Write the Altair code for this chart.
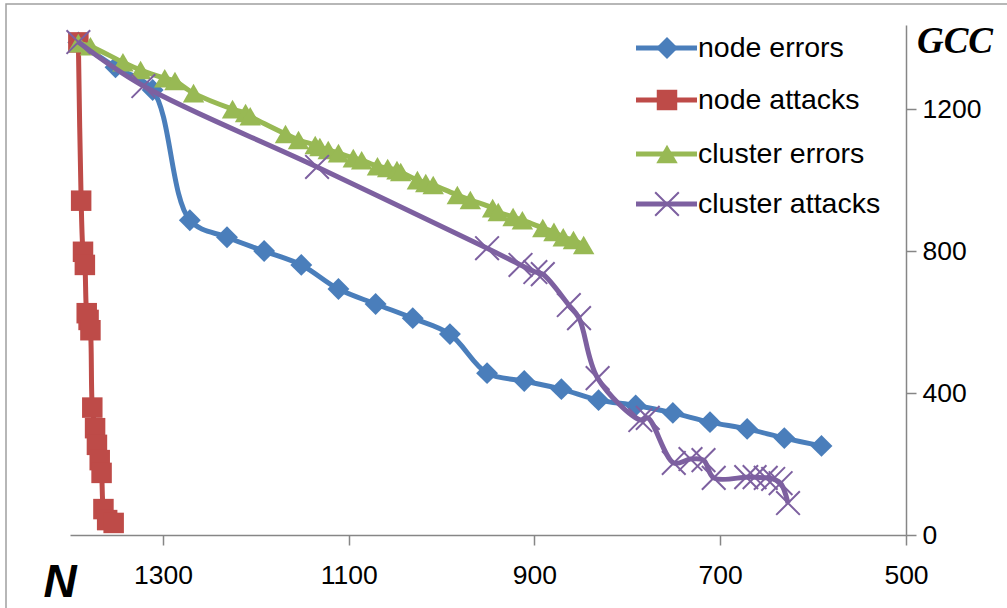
import altair as alt
import pandas as pd

# ---- data ----
ne_n = [1391, 1351, 1311, 1271, 1231, 1191, 1151, 1111, 1071, 1031, 991,
        951, 911, 871, 831, 791, 751, 711, 671, 631, 591]
ne_gcc = [1388, 1318, 1254, 887, 839, 800, 761, 693, 651, 611, 566,
          456, 434, 411, 380, 365, 344, 318, 299, 273, 251]

na_n = [1391, 1388, 1386, 1384, 1382, 1380, 1378, 1376, 1373, 1371, 1368,
        1366, 1364, 1360, 1353]
na_gcc = [1388, 942, 798, 761, 625, 606, 577, 359, 301, 254, 211,
          175, 73, 42, 34]

ce_n = [1391, 1378, 1343, 1324, 1298, 1287, 1267, 1225, 1211, 1206, 1168,
        1154, 1136, 1131, 1122, 1111, 1095, 1086, 1069, 1058, 1048, 1044,
        1026, 1017, 1009, 983, 969, 945, 939, 923, 913, 891, 879, 869, 858, 847]
ce_gcc = [1386, 1377, 1332, 1310, 1287, 1279, 1245, 1200, 1189, 1180, 1130,
          1113, 1099, 1093, 1085, 1076, 1062, 1056, 1039, 1034, 1028, 1023,
          1000, 992, 986, 958, 944, 921, 910, 896, 887, 865, 854, 839, 831, 817]

ca_n = [1391, 1321, 1134, 951, 915, 899, 891, 863, 852, 832, 786, 778,
        750, 732, 718, 707, 672, 663, 651, 643, 635, 627]
ca_gcc = [1389, 1265, 1037, 808, 761, 741, 735, 648, 611, 442, 324, 330,
          203, 214, 211, 161, 163, 163, 161, 158, 146, 90]

series_names = ["node errors", "node attacks", "cluster errors", "cluster attacks"]
series_colors = ["#4A7EBB", "#BE4B48", "#98B954", "#7D60A0"]
x_ticks = [1300, 1100, 900, 700, 500]
y_ticks = [0, 400, 800, 1200]

XSHAPE = "M-1,-1L1,1M1,-1L-1,1"
FONT = "Liberation Sans"
AXIS_GRAY = "#868686"

W, H = 836, 510
PAD_L, PAD_T = 70, 25

x_scale = alt.Scale(domain=[500, 1400], reverse=True, nice=False, zero=False)
y_scale = alt.Scale(domain=[0, 1437], nice=False, zero=True)

x_axis = alt.Axis(values=x_ticks, title=None, grid=False, labelFontSize=26.5,
                  labelFont=FONT, labelColor="#000000", tickSize=10,
                  tickColor=AXIS_GRAY, tickWidth=1.5, domainColor=AXIS_GRAY,
                  domainWidth=1.5, labelPadding=17, labelFlush=False,
                  labelOverlap=False, format="d")
y_axis = alt.Axis(values=y_ticks, title=None, grid=False, orient="right",
                  labelFontSize=26.5, labelFont=FONT, labelColor="#000000",
                  tickSize=10, tickColor=AXIS_GRAY, tickWidth=1.5,
                  domainColor=AXIS_GRAY, domainWidth=1.5, labelPadding=6,
                  labelOverlap=False, format="d")


def sdf(n, g, name):
    return pd.DataFrame({"N": n, "GCC": g, "series": name, "i": list(range(len(n)))})


dfs = [sdf(ne_n, ne_gcc, series_names[0]),
       sdf(na_n, na_gcc, series_names[1]),
       sdf(ce_n, ce_gcc, series_names[2]),
       sdf(ca_n, ca_gcc, series_names[3])]

shapes = ["diamond", "square", "triangle-up", XSHAPE]
sizes = [480, 420, 460, 560]

layers = []
for k, df in enumerate(dfs):
    col = series_colors[k]
    base = alt.Chart(df)
    enc = dict(x=alt.X("N:Q", scale=x_scale, axis=x_axis),
               y=alt.Y("GCC:Q", scale=y_scale, axis=y_axis))
    line = base.mark_line(color=col, strokeWidth=5, interpolate="catmull-rom").encode(
        order="i:Q", **enc)
    if k == 3:
        pts = base.mark_point(shape=XSHAPE, size=sizes[k], color=col, filled=False,
                              strokeWidth=2, opacity=1).encode(**enc)
    else:
        pts = base.mark_point(shape=shapes[k], size=sizes[k], color=col, filled=True,
                              opacity=1).encode(**enc)
    layers += [line, pts]

# ---- legend (manual, inside the plot area, top right) ----
one = pd.DataFrame({"a": [0]})
leg_y = [23, 75, 129, 179]
for k, name in enumerate(series_names):
    col = series_colors[k]
    layers.append(alt.Chart(one).mark_rule(color=col, strokeWidth=5).encode(
        x=alt.value(566), x2=alt.value(627), y=alt.value(leg_y[k])))
    if k == 3:
        layers.append(alt.Chart(one).mark_point(shape=XSHAPE, size=sizes[k], color=col,
                                                filled=False, strokeWidth=2, opacity=1).encode(
            x=alt.value(597), y=alt.value(leg_y[k])))
    else:
        layers.append(alt.Chart(one).mark_point(shape=shapes[k], size=sizes[k], color=col,
                                                filled=True, opacity=1).encode(
            x=alt.value(597), y=alt.value(leg_y[k])))
    layers.append(alt.Chart(pd.DataFrame({"t": [name]})).mark_text(
        align="left", baseline="middle", font=FONT, fontSize=28.5, color="#000000").encode(
        x=alt.value(628), y=alt.value(leg_y[k]), text="t:N"))

# ---- axis titles ----
layers.append(alt.Chart(pd.DataFrame({"t": ["GCC"]})).mark_text(
    align="center", baseline="alphabetic", font="Liberation Serif", fontSize=37,
    fontWeight="bold", fontStyle="italic", color="#000000").encode(
    x=alt.value(885), y=alt.value(28), text="t:N"))
layers.append(alt.Chart(pd.DataFrame({"t": ["N"]})).mark_text(
    align="center", baseline="alphabetic", font=FONT, fontSize=46,
    fontWeight="bold", fontStyle="italic", color="#000000").encode(
    x=alt.value(-10), y=alt.value(572), text="t:N"))

# ---- chart-area border ----
layers.append(alt.Chart(one).mark_rect(fillOpacity=0, stroke="#A0A0A0", strokeWidth=1.5,
                                       clip=False).encode(
    x=alt.value(-64), x2=alt.value(960), y=alt.value(-21), y2=alt.value(600)))

chart = alt.layer(*layers).properties(
    width=W, height=H,
    autosize=alt.AutoSizeParams(type="none"),
    padding={"left": PAD_L, "top": PAD_T, "right": 1007 - PAD_L - W, "bottom": 608 - PAD_T - H},
    background="white",
).configure_view(stroke=None)

chart.save("out.html", embed_options={"renderer": "svg", "actions": False})
